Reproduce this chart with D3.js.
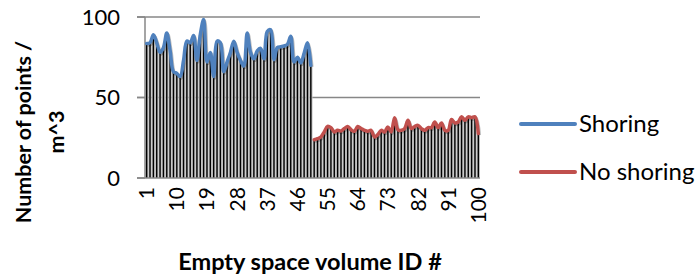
<!DOCTYPE html>
<html>
<head>
<meta charset="utf-8">
<script src="https://cdn.jsdelivr.net/npm/d3@7"></script>
<style>
  body { margin: 0; background: #fff; }
  text { font-family: Lato, "Open Sans", sans-serif; fill: #000; }
</style>
</head>
<body>
<div id="chart"></div>
<script>
const colors = {
  shoring: "#4f81bd",
  noShoring: "#c0504d",
  grid: "#878787",
  barFill: "#bfbfbf",
  barLine: "#000"
};

// values, ID 1..50 and 51..100
const shoring = [83.5, 84, 89, 84, 78, 81, 90, 79, 66, 65,
  63, 73, 85, 84, 88.5, 73, 89, 98.5, 72, 78,
  63, 85, 84, 66, 72, 78, 85, 78, 73, 69.5,
  90, 78, 74, 79, 80.5, 74, 91, 92, 73.5, 81,
  81.5, 82, 83, 88, 72, 75, 71.5, 77.5, 84, 70];
const noShoring = [23.8, 24.4, 25.5, 28.6, 32.1, 31.3, 28.6, 29.6, 29.2, 30.7,
  32, 30, 29, 32, 30.7, 29.6, 29, 29.6, 25.5, 27,
  29.6, 28.6, 31.7, 28.6, 37.5, 30, 29.6, 30.7, 35.8, 30.7,
  32, 32.7, 30.7, 29.6, 31.3, 31.3, 34.8, 31.3, 34.2, 29.6,
  29.6, 36.3, 34.2, 34.8, 38, 35.8, 38, 37.5, 38, 27.6];
const shoringIds = d3.range(1, 51);
const noShoringIds = d3.range(51, 101);
const xTickLabels = [1, 10, 19, 28, 37, 46, 55, 64, 73, 82, 91, 100];
const yTicks = [0, 50, 100];

const W = 700, H = 277;
const margin = { top: 17, right: 220, bottom: 99, left: 145 };
const width = W - margin.left - margin.right;
const height = H - margin.top - margin.bottom;

const svg = d3.select("#chart")
  .append("svg")
  .attr("width", W)
  .attr("height", H);

const g = svg.append("g")
  .attr("transform", `translate(${margin.left},${margin.top})`);

const ids = shoringIds.concat(noShoringIds);
const barValues = shoring.concat(noShoring);

const x = d3.scaleBand()
  .domain(ids)
  .range([0, width])
  .padding(0);

const y = d3.scaleLinear()
  .domain([0, 100])
  .range([height, 0]);

// gridlines
g.selectAll(".grid")
  .data(yTicks.filter(d => d > 0))
  .enter()
  .append("line")
  .attr("x1", -8)
  .attr("x2", width)
  .attr("y1", d => y(d))
  .attr("y2", d => y(d))
  .attr("stroke", colors.grid)
  .attr("stroke-width", 1.5);

// bars: grey fill with black centre line
g.selectAll(".bar-fill")
  .data(ids)
  .enter()
  .append("rect")
  .attr("x", d => x(d))
  .attr("width", x.bandwidth())
  .attr("y", (d, i) => y(barValues[i]))
  .attr("height", (d, i) => height - y(barValues[i]))
  .attr("fill", colors.barFill);

g.selectAll(".bar-line")
  .data(ids)
  .enter()
  .append("rect")
  .attr("x", d => x(d) + x.bandwidth() / 2 - 0.7)
  .attr("width", 1.4)
  .attr("y", (d, i) => y(barValues[i]))
  .attr("height", (d, i) => height - y(barValues[i]))
  .attr("fill", colors.barLine);

// axes
g.append("line")
  .attr("x1", -8).attr("x2", width)
  .attr("y1", height).attr("y2", height)
  .attr("stroke", colors.grid).attr("stroke-width", 1.5);

g.append("line")
  .attr("x1", 0).attr("x2", 0)
  .attr("y1", 0).attr("y2", height)
  .attr("stroke", colors.grid).attr("stroke-width", 1.5);

g.selectAll(".y-tick")
  .data(yTicks)
  .enter()
  .append("line")
  .attr("x1", -8).attr("x2", 0)
  .attr("y1", d => y(d)).attr("y2", d => y(d))
  .attr("stroke", colors.grid).attr("stroke-width", 1.5);

// lines
const line = d3.line()
  .x(d => x(d.id) + x.bandwidth() / 2)
  .y(d => y(d.v))
  .curve(d3.curveCatmullRom.alpha(0.5));

const series = [
  { name: "Shoring", color: colors.shoring, pts: shoringIds.map((id, i) => ({ id, v: shoring[i] })) },
  { name: "No shoring", color: colors.noShoring, pts: noShoringIds.map((id, i) => ({ id, v: noShoring[i] })) }
];

series.forEach(s => {
  g.append("path")
    .datum(s.pts)
    .attr("d", line)
    .attr("fill", "none")
    .attr("stroke", "#000")
    .attr("stroke-opacity", 0.25)
    .attr("stroke-width", 3.5)
    .attr("transform", "translate(1,1.5)");
  g.append("path")
    .datum(s.pts)
    .attr("d", line)
    .attr("fill", "none")
    .attr("stroke", s.color)
    .attr("stroke-width", 3.5)
    .attr("stroke-linejoin", "round")
    .attr("stroke-linecap", "round");
});

// y tick labels
g.selectAll(".y-label")
  .data(yTicks)
  .enter()
  .append("text")
  .attr("x", -25)
  .attr("y", d => y(d))
  .attr("dy", "0.35em")
  .attr("text-anchor", "end")
  .style("font-size", "22px")
  .text(d => d);

// x tick labels
g.selectAll(".x-label")
  .data(xTickLabels)
  .enter()
  .append("text")
  .attr("transform", d => `translate(${x(d) + x.bandwidth() / 2 + 7.5},${height + 9}) rotate(-90)`)
  .attr("text-anchor", "end")
  .style("font-size", "21px")
  .text(d => d);

// axis titles
svg.append("text")
  .attr("transform", "translate(31,132) rotate(-90)")
  .attr("text-anchor", "middle")
  .style("font-size", "21.5px")
  .style("font-weight", "700")
  .text("Number of points /");

svg.append("text")
  .attr("transform", "translate(64,132) rotate(-90)")
  .attr("text-anchor", "middle")
  .style("font-size", "21.5px")
  .style("font-weight", "700")
  .text("m^3");

svg.append("text")
  .attr("x", 310)
  .attr("y", 270)
  .attr("text-anchor", "middle")
  .style("font-size", "23.5px")
  .style("font-weight", "700")
  .text("Empty space volume ID #");

// legend
const legend = svg.append("g")
  .attr("transform", "translate(520,124)");

legend.selectAll(".legend-item")
  .data(series)
  .enter()
  .append("g")
  .attr("transform", (d, i) => `translate(0,${i * 48})`)
  .each(function(d) {
    const item = d3.select(this);
    item.append("line")
      .attr("x1", 1).attr("x2", 55)
      .attr("stroke", d.color)
      .attr("stroke-width", 4)
      .attr("stroke-linecap", "round");
    item.append("text")
      .attr("x", 59)
      .attr("dy", "0.35em")
      .style("font-size", "24px")
      .text(d.name);
  });
</script>
</body>
</html>
